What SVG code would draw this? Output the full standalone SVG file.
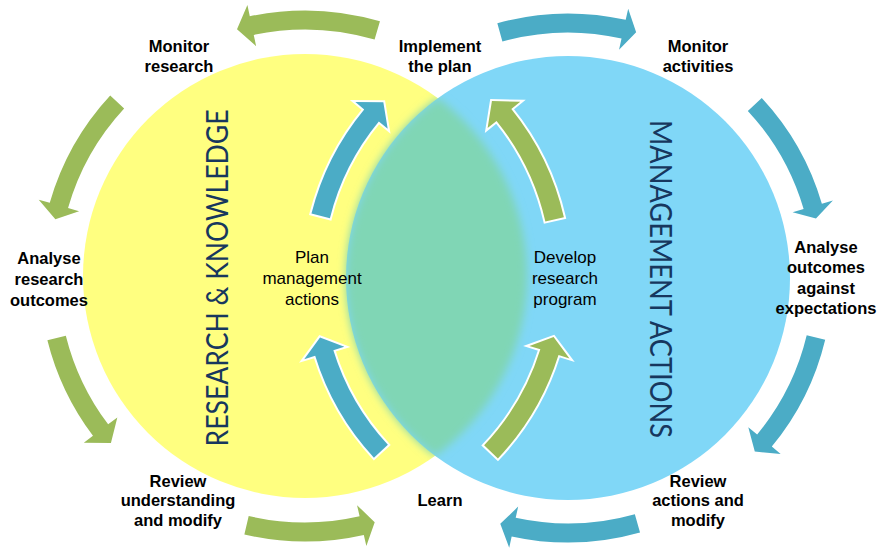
<svg xmlns="http://www.w3.org/2000/svg" width="877" height="548" viewBox="0 0 877 548">
<defs>
<style>
.lbl{font-family:"Liberation Sans",Arial,sans-serif;font-weight:bold;font-size:16.5px;fill:#000;text-anchor:middle}
.lbr{font-family:"Liberation Sans",Arial,sans-serif;font-weight:normal;font-size:17px;fill:#000;text-anchor:middle}
.big{font-family:Lato,"Open Sans",sans-serif;font-weight:normal;font-size:30px;fill:#17375E;text-anchor:middle}
.ga{fill:#9BBB59;stroke:#fff;stroke-width:4;paint-order:stroke}
.ba{fill:#4BACC6;stroke:#fff;stroke-width:4;paint-order:stroke}
</style>
<filter id="soft" x="-20%" y="-20%" width="140%" height="140%"><feGaussianBlur stdDeviation="4.5"/></filter>
<clipPath id="union"><circle cx="305" cy="276" r="222"/><circle cx="568" cy="278" r="222"/></clipPath>
</defs>
<rect width="877" height="548" fill="#fff"/>
<g id="circle-research">
<circle cx="305" cy="276" r="222" fill="#FFFF80"/>
</g>
<g id="circle-management">
<circle cx="568" cy="278" r="222" fill="#80D7F7"/>
</g>
<g id="overlap" clip-path="url(#union)">
<path d="M437.86,98.1 A222,222 0 0 1 435.14,455.9 A222,222 0 0 1 437.86,98.1 Z" fill="#80D6B5" filter="url(#soft)"/>
</g>
<g id="connectors">
<path class="ga" d="M379.95,21.31 A265.5,265.5 0 0 0 249.80,16.31 L247.41,5.07 L237.01,29.19 L256.14,46.15 L253.75,34.90 A246.5,246.5 0 0 1 374.59,39.53 Z"/>
<path class="ga" d="M110.20,95.62 A265.5,265.5 0 0 0 49.77,202.83 L38.72,199.66 L55.37,219.30 L79.09,211.23 L68.04,208.06 A246.5,246.5 0 0 1 124.14,108.53 Z"/>
<path class="ga" d="M47.39,340.22 A265.5,265.5 0 0 0 92.97,435.78 L83.79,442.70 L110.93,442.94 L117.33,417.42 L108.15,424.34 A246.5,246.5 0 0 1 65.82,335.63 Z"/>
<path class="ga" d="M244.36,534.49 A265.5,265.5 0 0 0 363.81,534.89 L366.36,546.10 L374.71,522.32 L357.05,505.15 L359.60,516.36 A246.5,246.5 0 0 1 248.70,516.00 Z"/>
<path class="ga" d="M563.89,217.19 A265.5,265.5 0 0 0 511.32,108.92 L520.26,101.68 L491.93,101.08 L487.62,128.11 L496.56,120.88 A246.5,246.5 0 0 1 545.36,221.40 Z"/>
<path class="ga" d="M497.91,458.43 A265.5,265.5 0 0 0 558.50,354.96 L569.48,358.38 L553.60,337.06 L529.38,345.89 L540.36,349.31 A246.5,246.5 0 0 1 484.11,445.37 Z"/>
<path class="ba" d="M497.33,23.13 A264.5,264.5 0 0 1 625.69,19.87 L628.20,8.65 L636.14,32.28 L619.04,49.64 L621.54,38.42 A245.5,245.5 0 0 0 502.40,41.44 Z"/>
<path class="ba" d="M761.75,97.95 A264.5,264.5 0 0 1 821.87,203.75 L832.90,200.53 L815.96,218.48 L792.59,212.32 L803.63,209.09 A245.5,245.5 0 0 0 747.83,110.89 Z"/>
<path class="ba" d="M825.20,339.73 A264.5,264.5 0 0 1 771.80,446.59 L780.66,453.92 L754.79,451.58 L748.30,427.15 L757.16,434.48 A245.5,245.5 0 0 0 806.72,335.30 Z"/>
<path class="ba" d="M640.02,532.50 A264.5,264.5 0 0 1 511.66,536.42 L509.21,547.65 L500.27,523.85 L518.16,506.62 L515.71,517.85 A245.5,245.5 0 0 0 634.85,514.22 Z"/>
<path class="ba" d="M311.46,213.57 A264.5,264.5 0 0 1 364.20,109.41 L355.34,102.08 L383.33,102.15 L387.70,128.85 L378.84,121.52 A245.5,245.5 0 0 0 329.89,218.20 Z"/>
<path class="ba" d="M373.94,457.70 A264.5,264.5 0 0 1 315.19,355.76 L304.20,359.14 L320.04,337.52 L344.34,346.80 L333.35,350.18 A245.5,245.5 0 0 0 387.88,444.79 Z"/>
</g>
<g id="title-research">
<text class="big" transform="translate(228,278) rotate(-90)" textLength="337" lengthAdjust="spacingAndGlyphs">RESEARCH &amp; KNOWLEDGE</text>
</g>
<g id="title-management">
<text class="big" transform="translate(650,279) rotate(90)" textLength="318" lengthAdjust="spacingAndGlyphs">MANAGEMENT ACTIONS</text>
</g>
<g id="monitor-research">
<text class="lbl" x="179" y="52">Monitor</text>
<text class="lbl" x="179" y="72">research</text>
</g>
<g id="implement-plan">
<text class="lbl" x="440" y="52">Implement</text>
<text class="lbl" x="440" y="72">the plan</text>
</g>
<g id="monitor-activities">
<text class="lbl" x="698" y="52">Monitor</text>
<text class="lbl" x="698" y="72">activities</text>
</g>
<g id="analyse-research">
<text class="lbl" x="49" y="264">Analyse</text>
<text class="lbl" x="49" y="285">research</text>
<text class="lbl" x="49" y="306">outcomes</text>
</g>
<g id="plan-actions">
<text class="lbr" x="312" y="263">Plan</text>
<text class="lbr" x="312" y="284">management</text>
<text class="lbr" x="312" y="305">actions</text>
</g>
<g id="develop-program">
<text class="lbr" x="565" y="263">Develop</text>
<text class="lbr" x="565" y="284">research</text>
<text class="lbr" x="565" y="305">program</text>
</g>
<g id="analyse-outcomes">
<text class="lbl" x="826" y="252.5">Analyse</text>
<text class="lbl" x="826" y="273">outcomes</text>
<text class="lbl" x="826" y="293.5">against</text>
<text class="lbl" x="826" y="314">expectations</text>
</g>
<g id="review-understanding">
<text class="lbl" x="178" y="487">Review</text>
<text class="lbl" x="178" y="506">understanding</text>
<text class="lbl" x="178" y="526">and modify</text>
</g>
<g id="learn">
<text class="lbl" x="440" y="506">Learn</text>
</g>
<g id="review-actions">
<text class="lbl" x="698" y="487">Review</text>
<text class="lbl" x="698" y="506">actions and</text>
<text class="lbl" x="698" y="526">modify</text>
</g>
</svg>
